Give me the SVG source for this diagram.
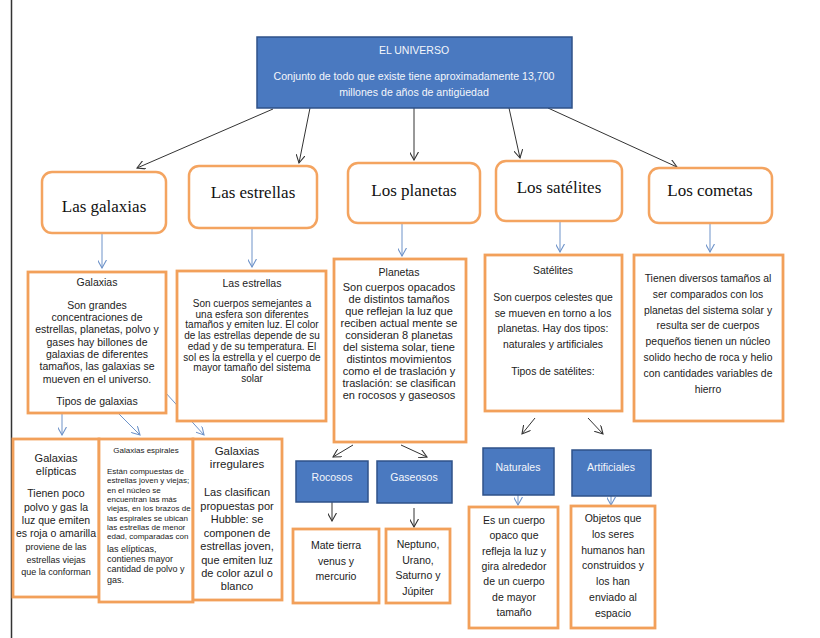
<svg xmlns="http://www.w3.org/2000/svg" width="820" height="638" viewBox="0 0 820 638">
<defs>
<marker id="ak" viewBox="0 0 10 10" refX="9" refY="5" markerWidth="9" markerHeight="9" markerUnits="userSpaceOnUse" orient="auto"><path d="M0,0 L9,5 L0,10" fill="none" stroke="#333" stroke-width="1.2"/></marker>
<marker id="ab" viewBox="0 0 10 10" refX="9" refY="5" markerWidth="9" markerHeight="9" markerUnits="userSpaceOnUse" orient="auto"><path d="M0,0 L9,5 L0,10" fill="none" stroke="#6E93C9" stroke-width="1.2"/></marker>
</defs>
<style>
.r1{fill:#fff;stroke:#F4A460;stroke-width:2.5}
.r2{fill:#fff;stroke:#F2A05A;stroke-width:2.8}
.bl{fill:#4A79C0;stroke:#2F5289;stroke-width:1.5}
.h{font-family:"Liberation Serif",serif;font-size:17px;fill:#111;text-anchor:middle}
.s{font-family:"Liberation Sans",Arial,sans-serif;fill:#222;text-anchor:middle}
.w{font-family:"Liberation Sans",Arial,sans-serif;fill:#f4f6fb;text-anchor:middle}
.k{fill:none;stroke:#333;stroke-width:1;marker-end:url(#ak)}
.b{fill:none;stroke:#6E93C9;stroke-width:1;marker-end:url(#ab)}
</style>
<rect width="820" height="638" fill="#fff"/>
<line x1="11.5" y1="0" x2="11.5" y2="638" stroke="#333" stroke-width="1.5"/>

<g id="connectors">
<line class="k" x1="273" y1="109" x2="137" y2="168"/>
<line class="k" x1="310" y1="108" x2="299" y2="163"/>
<line class="k" x1="414" y1="108" x2="414" y2="160"/>
<line class="k" x1="509" y1="108" x2="520" y2="158"/>
<line class="k" x1="548" y1="108" x2="677" y2="167"/>
<line class="b" x1="102" y1="233" x2="102" y2="268"/>
<line class="b" x1="252" y1="228" x2="252" y2="267"/>
<line class="b" x1="402" y1="223" x2="402" y2="256"/>
<line class="b" x1="560" y1="221" x2="560" y2="252"/>
<line class="b" x1="710" y1="223" x2="710" y2="252"/>
<line class="b" x1="62" y1="413" x2="62" y2="435"/>
<line class="b" x1="117" y1="412" x2="140" y2="435"/>
<line class="b" x1="155" y1="381" x2="204" y2="435"/>
<line class="k" x1="353" y1="445" x2="333" y2="457"/>
<line class="k" x1="401" y1="445" x2="427" y2="457"/>
<line class="k" x1="332" y1="502" x2="332" y2="521"/>
<line class="k" x1="414" y1="508" x2="414" y2="527"/>
<line class="k" x1="535" y1="418" x2="522" y2="434"/>
<line class="k" x1="588" y1="418" x2="603" y2="434"/>
<line class="b" x1="518" y1="495" x2="518" y2="505"/>
<line class="b" x1="611" y1="496" x2="611" y2="505"/>
</g>

<g id="universo">
<rect x="257" y="37" width="315" height="71" fill="#4A79C0" stroke="#2F5289" stroke-width="1.5"/>
<text class="w" x="414" y="54" font-size="10.5">EL UNIVERSO</text>
<text class="w" x="414" y="80" font-size="10.6">Conjunto de todo que existe tiene aproximadamente 13,700</text>
<text class="w" x="414" y="96" font-size="10.6">millones de años de antigüedad</text>
</g>

<g id="las-galaxias"><rect class="r1" x="42" y="172" width="124" height="61" rx="10"/><text class="h" x="104" y="212">Las galaxias</text></g>
<g id="las-estrellas"><rect class="r1" x="189" y="166" width="128" height="62" rx="10"/><text class="h" x="253" y="198">Las estrellas</text></g>
<g id="los-planetas"><rect class="r1" x="348" y="163" width="132" height="60" rx="10"/><text class="h" x="414" y="196">Los planetas</text></g>
<g id="los-satelites"><rect class="r1" x="496" y="161" width="126" height="60" rx="10"/><text class="h" x="559" y="193">Los satélites</text></g>
<g id="los-cometas"><rect class="r1" x="649" y="168" width="123" height="55" rx="10"/><text class="h" x="710" y="196">Los cometas</text></g>

<g id="galaxias">
<rect class="r2" x="28" y="272" width="138" height="141"/>
<text class="s" font-size="10.5"><tspan x="97" y="286">Galaxias</tspan><tspan x="97" y="309">Son grandes</tspan><tspan x="97" y="321">concentraciones de</tspan><tspan x="97" y="333">estrellas, planetas, polvo y</tspan><tspan x="97" y="346">gases hay billones de</tspan><tspan x="97" y="358">galaxias de diferentes</tspan><tspan x="97" y="370">tamaños, las galaxias se</tspan><tspan x="97" y="383">mueven en el universo.</tspan><tspan x="97" y="405">Tipos de galaxias</tspan></text>
</g>

<g id="estrellas">
<rect class="r2" x="177" y="271" width="149" height="150"/>
<text class="s" font-size="10"><tspan x="252" y="287" font-size="10.5">Las estrellas</tspan><tspan x="252" y="307">Son cuerpos semejantes  a</tspan><tspan x="252" y="317.7">una esfera son diferentes</tspan><tspan x="252" y="328.4">tamaños y emiten luz. El color</tspan><tspan x="252" y="339.1">de las estrellas depende de su</tspan><tspan x="252" y="349.8">edad y de su temperatura. El</tspan><tspan x="252" y="360.5">sol es la estrella y el cuerpo de</tspan><tspan x="252" y="371.2">mayor tamaño del sistema</tspan><tspan x="252" y="381.9">solar</tspan></text>
</g>

<g id="planetas">
<rect class="r2" x="334" y="259" width="132" height="183"/>
<text class="s" font-size="11"><tspan x="399" y="276" font-size="10.5">Planetas</tspan><tspan x="399" y="291">Son cuerpos opacados</tspan><tspan x="399" y="303">de distintos tamaños</tspan><tspan x="399" y="315">que reflejan la luz que</tspan><tspan x="399" y="327">reciben actual mente se</tspan><tspan x="399" y="339">consideran 8 planetas</tspan><tspan x="399" y="351">del sistema solar, tiene</tspan><tspan x="399" y="363">distintos movimientos</tspan><tspan x="399" y="375">como el de traslación y</tspan><tspan x="399" y="387">traslación: se clasifican</tspan><tspan x="399" y="399">en rocosos y gaseosos</tspan></text>
</g>

<g id="satelites">
<rect class="r2" x="485" y="255" width="137" height="156"/>
<text class="s" font-size="10.4"><tspan x="553" y="274">Satélites</tspan><tspan x="553" y="301">Son cuerpos celestes que</tspan><tspan x="553" y="316.5">se mueven en torno a los</tspan><tspan x="553" y="332">planetas. Hay dos tipos:</tspan><tspan x="553" y="347.5">naturales y artificiales</tspan><tspan x="553" y="375">Tipos de satélites:</tspan></text>
</g>

<g id="cometas">
<rect class="r2" x="634" y="255" width="149" height="166"/>
<text class="s" font-size="10.4"><tspan x="708" y="282">Tienen diversos tamaños al</tspan><tspan x="708" y="297.8">ser comparados con los</tspan><tspan x="708" y="313.6">planetas del sistema solar y</tspan><tspan x="708" y="329.4">resulta ser de cuerpos</tspan><tspan x="708" y="345.2">pequeños tienen un núcleo</tspan><tspan x="708" y="361">solido hecho de roca y helio</tspan><tspan x="708" y="376.8">con cantidades variables de</tspan><tspan x="708" y="392.6">hierro</tspan></text>
</g>

<g id="elipticas">
<rect class="r2" x="13" y="439" width="86" height="158"/>
<text class="s" font-size="11"><tspan x="56" y="462">Galaxias</tspan><tspan x="56" y="475">elípticas</tspan><tspan x="56" y="497" font-size="10.5">Tienen poco</tspan><tspan x="56" y="511" font-size="10.5">polvo y gas la</tspan><tspan x="56" y="524" font-size="10.5">luz que emiten</tspan><tspan x="56" y="537" font-size="10.5">es roja o amarilla</tspan><tspan x="56" y="550" font-size="9">proviene de las</tspan><tspan x="56" y="563" font-size="9">estrellas viejas</tspan><tspan x="56" y="575" font-size="9">que la conforman</tspan></text>
</g>

<g id="espirales">
<rect class="r2" x="99" y="439" width="94" height="163"/>
<text class="s" font-size="8" x="146" y="453">Galaxias  espirales</text>
<text font-family="'Liberation Sans',Arial,sans-serif" font-size="8" fill="#222"><tspan x="107" y="474">Están compuestas de</tspan><tspan x="107" y="483.3">estrellas joven y viejas;</tspan><tspan x="107" y="492.6">en el núcleo se</tspan><tspan x="107" y="501.9">encuentran las más</tspan><tspan x="107" y="511.2">viejas, en los brazos de</tspan><tspan x="107" y="520.5">las espirales se ubican</tspan><tspan x="107" y="529.8">las estrellas de menor</tspan><tspan x="107" y="539.1">edad, comparadas con</tspan><tspan x="107" y="551.5" font-size="9">las elípticas,</tspan><tspan x="107" y="561.5" font-size="9">contienes mayor</tspan><tspan x="107" y="571.5" font-size="9">cantidad de polvo y</tspan><tspan x="107" y="583" font-size="9">gas.</tspan></text>
</g>

<g id="irregulares">
<rect class="r2" x="193" y="439" width="89" height="161"/>
<text class="s" font-size="11.5"><tspan x="237" y="455">Galaxias</tspan><tspan x="237" y="468">irregulares</tspan><tspan x="237" y="496" font-size="11">Las clasifican</tspan><tspan x="237" y="509.5" font-size="11">propuestas por</tspan><tspan x="237" y="523" font-size="11">Hubble: se</tspan><tspan x="237" y="536.5" font-size="11">componen de</tspan><tspan x="237" y="550" font-size="11">estrellas joven,</tspan><tspan x="237" y="563.5" font-size="11">que emiten luz</tspan><tspan x="237" y="577" font-size="11">de color azul o</tspan><tspan x="237" y="590" font-size="11">blanco</tspan></text>
</g>

<g id="rocosos"><rect class="bl" x="296" y="461" width="72" height="41"/><text class="w" x="332" y="481" font-size="10.5">Rocosos</text></g>
<g id="gaseosos"><rect class="bl" x="377" y="461" width="75" height="42"/><text class="w" x="414" y="481" font-size="10.5">Gaseosos</text></g>
<g id="naturales"><rect class="bl" x="483" y="448" width="71" height="47"/><text class="w" x="518" y="471" font-size="10.5">Naturales</text></g>
<g id="artificiales"><rect class="bl" x="572" y="450" width="79" height="46"/><text class="w" x="611" y="471" font-size="10.5">Artificiales</text></g>

<g id="rocosos-desc">
<rect class="r2" x="293" y="529" width="86" height="74"/>
<text class="s" font-size="10.5"><tspan x="336" y="549">Mate tierra</tspan><tspan x="336" y="564.5">venus y</tspan><tspan x="336" y="580">mercurio</tspan></text>
</g>
<g id="gaseosos-desc">
<rect class="r2" x="386" y="529" width="64" height="74"/>
<text class="s" font-size="10.5"><tspan x="418" y="548">Neptuno,</tspan><tspan x="418" y="563.5">Urano,</tspan><tspan x="418" y="579">Saturno y</tspan><tspan x="418" y="594.5">Júpiter</tspan></text>
</g>
<g id="naturales-desc">
<rect class="r2" x="469" y="507" width="89" height="121"/>
<text class="s" font-size="10.5"><tspan x="514" y="524">Es un cuerpo</tspan><tspan x="514" y="539.3">opaco que</tspan><tspan x="514" y="554.6">refleja la luz y</tspan><tspan x="514" y="569.9">gira alrededor</tspan><tspan x="514" y="585.2">de un cuerpo</tspan><tspan x="514" y="600.5">de mayor</tspan><tspan x="514" y="615.8">tamaño</tspan></text>
</g>
<g id="artificiales-desc">
<rect class="r2" x="571" y="506" width="84" height="122"/>
<text class="s" font-size="10.5"><tspan x="613" y="522">Objetos que</tspan><tspan x="613" y="537.8">los seres</tspan><tspan x="613" y="553.6">humanos han</tspan><tspan x="613" y="569.4">construidos y</tspan><tspan x="613" y="585.2">los han</tspan><tspan x="613" y="601">enviado al</tspan><tspan x="613" y="616.8">espacio</tspan></text>
</g>
</svg>
